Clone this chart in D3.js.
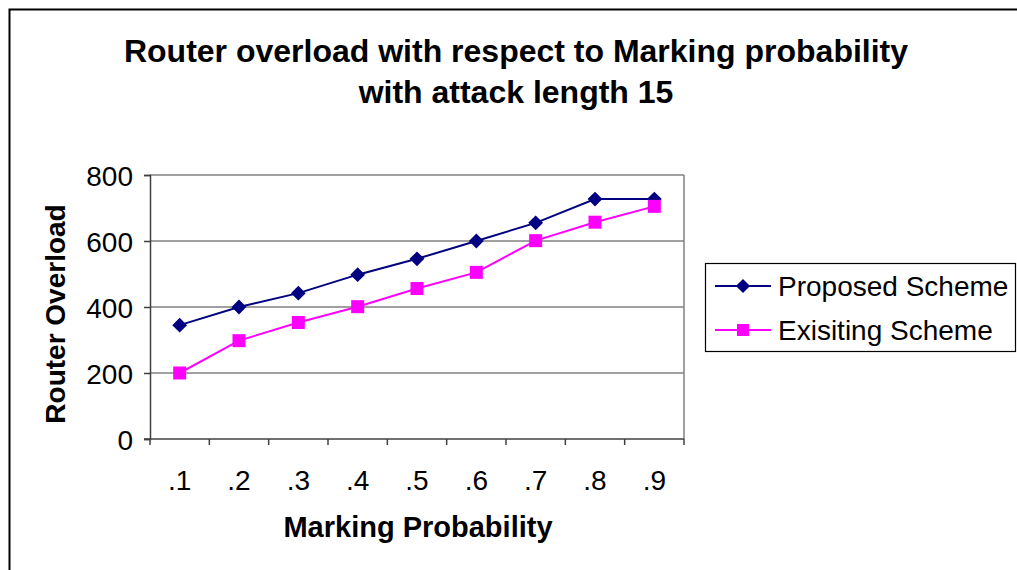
<!DOCTYPE html>
<html>
<head>
<meta charset="utf-8">
<script src="https://cdn.jsdelivr.net/npm/d3@7"></script>
<style>
  body { margin: 0; background: #fff; }
  svg text { font-family: "Liberation Sans", Arial, sans-serif; fill: #000; }
</style>
</head>
<body>
<div id="vis"></div>
<script>
// data
var categories = ['.1', '.2', '.3', '.4', '.5', '.6', '.7', '.8', '.9'];
var proposed = [345, 400, 442, 498, 546, 600, 655, 727, 727];
var existing = [200, 298, 353, 401, 456, 505, 601, 657, 705];
var yTicks = [0, 200, 400, 600, 800];
var seriesNames = ['Proposed Scheme', 'Exisiting Scheme'];

var width = 1017;
var height = 570;
var plot = { left: 150, right: 684, top: 175, bottom: 439 };

var svg = d3.select('#vis').append('svg')
    .attr('width', width)
    .attr('height', height);

// outer chart frame
svg.append('path')
    .attr('d', 'M9.5,' + height + 'V9.5H' + width)
    .attr('fill', 'none')
    .attr('stroke', '#000')
    .attr('stroke-width', 2);

var x = d3.scaleBand()
    .domain(categories)
    .range([plot.left, plot.right]);

var y = d3.scaleLinear()
    .domain([0, 800])
    .range([plot.bottom, plot.top]);

// gridlines
svg.append('g')
    .selectAll('line')
    .data(yTicks.slice(1))
    .enter().append('line')
    .attr('x1', plot.left).attr('x2', plot.right)
    .attr('y1', function (d) { return y(d); })
    .attr('y2', function (d) { return y(d); })
    .attr('stroke', '#808080')
    .attr('stroke-width', 1.5);

// right border of plot area
svg.append('line')
    .attr('x1', plot.right).attr('x2', plot.right)
    .attr('y1', plot.top).attr('y2', plot.bottom)
    .attr('stroke', '#808080')
    .attr('stroke-width', 1.5);

// y axis
var yAxis = svg.append('g')
    .attr('transform', 'translate(' + plot.left + ',0)')
    .call(d3.axisLeft(y).tickValues(yTicks).tickSize(6).tickPadding(11));
yAxis.select('.domain').attr('stroke', '#404040').attr('stroke-width', 1.5);
yAxis.selectAll('.tick line').attr('stroke', '#404040').attr('stroke-width', 1.5);
yAxis.selectAll('.tick text')
    .style('font-size', '28px')
    .attr('dy', '0.36em');

// x axis: ticks at category boundaries
var xAxis = svg.append('g')
    .attr('transform', 'translate(0,' + plot.bottom + ')');
xAxis.append('line')
    .attr('x1', plot.left - 6).attr('x2', plot.right)
    .attr('stroke', '#404040').attr('stroke-width', 1.5);
xAxis.selectAll('.bound')
    .data(categories.concat(['end']))
    .enter().append('line')
    .attr('class', 'bound')
    .attr('x1', function (d, i) { return plot.left + i * x.bandwidth(); })
    .attr('x2', function (d, i) { return plot.left + i * x.bandwidth(); })
    .attr('y1', 0).attr('y2', 6)
    .attr('stroke', '#404040').attr('stroke-width', 1.5);
xAxis.selectAll('.lbl')
    .data(categories)
    .enter().append('text')
    .attr('class', 'lbl')
    .attr('x', function (d) { return x(d) + x.bandwidth() / 2; })
    .attr('y', 51)
    .attr('text-anchor', 'middle')
    .style('font-size', '28px')
    .text(function (d) { return d; });

// lines
var line = d3.line()
    .x(function (d, i) { return x(categories[i]) + x.bandwidth() / 2; })
    .y(function (d) { return y(d); });

svg.append('path')
    .datum(proposed)
    .attr('d', line)
    .attr('fill', 'none')
    .attr('stroke', '#000080')
    .attr('stroke-width', 2);

svg.append('path')
    .datum(existing)
    .attr('d', line)
    .attr('fill', 'none')
    .attr('stroke', '#ff00ff')
    .attr('stroke-width', 2);

svg.selectAll('.pmark')
    .data(proposed)
    .enter().append('path')
    .attr('class', 'pmark')
    .attr('transform', function (d, i) {
      return 'translate(' + (x(categories[i]) + x.bandwidth() / 2) + ',' + y(d) + ') rotate(45)';
    })
    .attr('d', d3.symbol().type(d3.symbolSquare).size(110))
    .attr('fill', '#000080');

svg.selectAll('.emark')
    .data(existing)
    .enter().append('rect')
    .attr('class', 'emark')
    .attr('x', function (d, i) { return x(categories[i]) + x.bandwidth() / 2 - 6.5; })
    .attr('y', function (d) { return y(d) - 6.5; })
    .attr('width', 13).attr('height', 13)
    .attr('fill', '#ff00ff');

// title
svg.append('text')
    .attr('x', 516).attr('y', 62)
    .attr('text-anchor', 'middle')
    .style('font-size', '32px').style('font-weight', 'bold')
    .text('Router overload with respect to Marking probability');
svg.append('text')
    .attr('x', 516).attr('y', 103)
    .attr('text-anchor', 'middle')
    .style('font-size', '32px').style('font-weight', 'bold')
    .text('with attack length 15');

// axis titles
svg.append('text')
    .attr('x', 418).attr('y', 537)
    .attr('text-anchor', 'middle')
    .style('font-size', '29px').style('font-weight', 'bold')
    .text('Marking Probability');

svg.append('text')
    .attr('transform', 'translate(65,314) rotate(-90)')
    .attr('text-anchor', 'middle')
    .style('font-size', '28px').style('font-weight', 'bold')
    .text('Router Overload');

// legend
var legend = svg.append('g').attr('transform', 'translate(705,263)');
legend.append('rect')
    .attr('x', 0.5).attr('y', 0.5)
    .attr('width', 310).attr('height', 88)
    .attr('fill', '#fff')
    .attr('stroke', '#000')
    .attr('stroke-width', 1.2);

var colors = ['#000080', '#ff00ff'];
seriesNames.forEach(function (name, i) {
  var cy = 23 + i * 44;
  legend.append('line')
      .attr('x1', 10).attr('x2', 66)
      .attr('y1', cy).attr('y2', cy)
      .attr('stroke', colors[i]).attr('stroke-width', 2);
  if (i === 0) {
    legend.append('path')
        .attr('transform', 'translate(38,' + cy + ') rotate(45)')
        .attr('d', d3.symbol().type(d3.symbolSquare).size(100))
        .attr('fill', colors[i]);
  } else {
    legend.append('rect')
        .attr('x', 32).attr('y', cy - 6)
        .attr('width', 12).attr('height', 12)
        .attr('fill', colors[i]);
  }
  legend.append('text')
      .attr('x', 73).attr('y', cy + 10)
      .style('font-size', '28px')
      .text(name);
});
</script>
</body>
</html>
